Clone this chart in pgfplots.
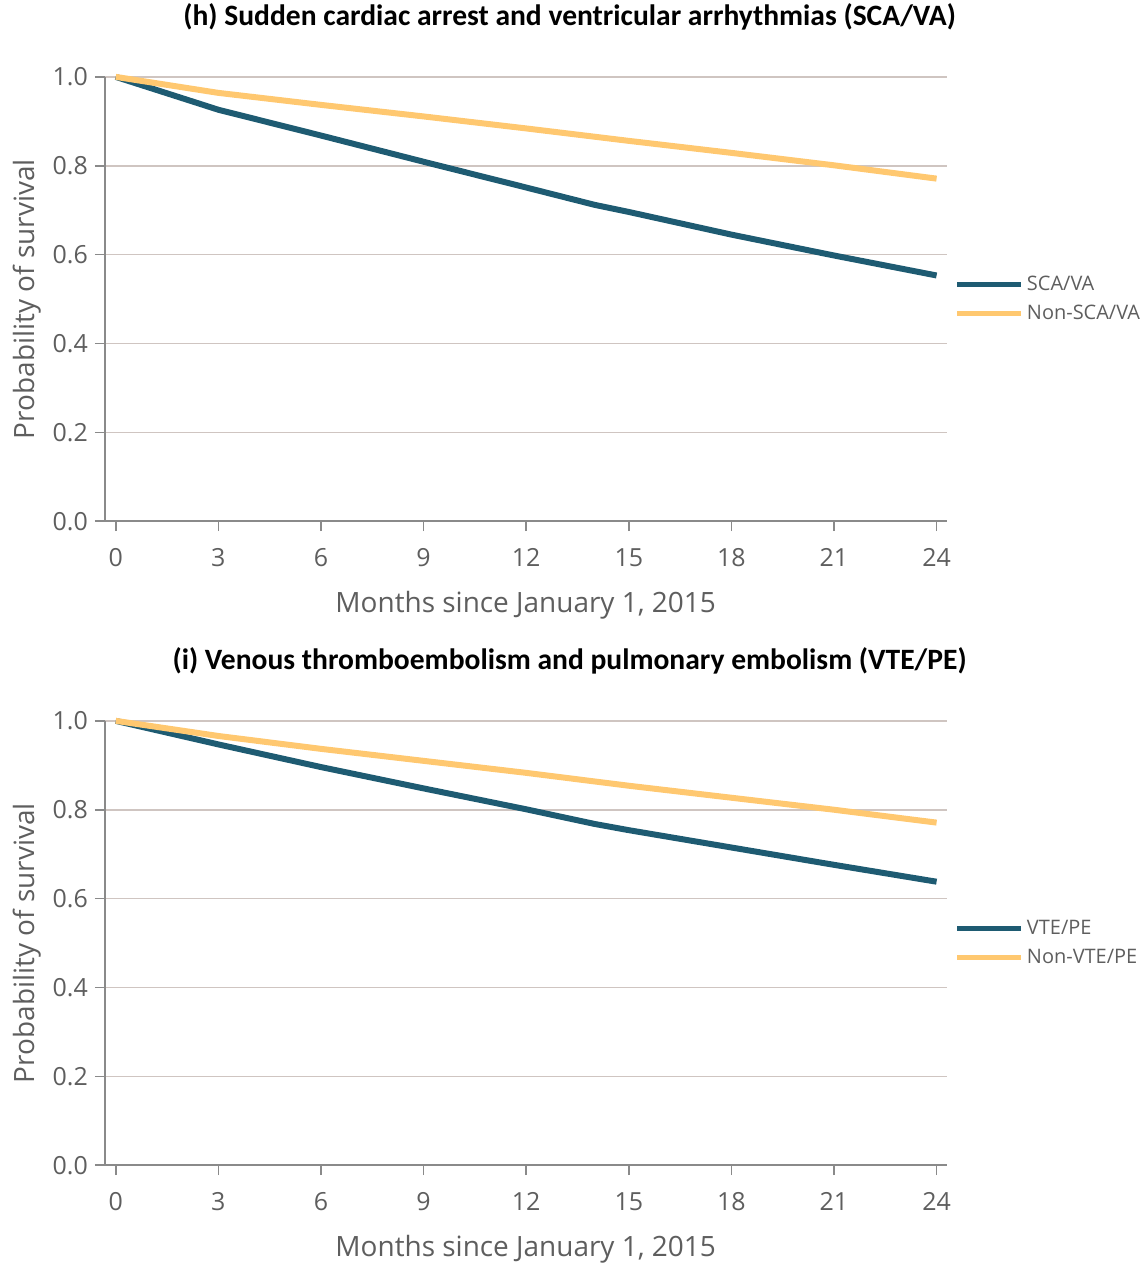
\documentclass[border=0pt]{standalone}
\usepackage{pgfplots}
\pgfplotsset{compat=1.18}
\usepackage{fontspec}
\setmainfont{Open Sans}
\newfontfamily\titlefont{Carlito}

\definecolor{teal}{HTML}{1E5B72}
\definecolor{gold}{HTML}{FFC870}
\definecolor{gridc}{HTML}{CFC5C1}
\definecolor{axisc}{HTML}{8A8A8A}
\definecolor{textc}{HTML}{5E5E5E}

\pgfplotsset{
  survival/.style={
    scale only axis,
    width=421.5pt, height=222.5pt,
    xmin=-0.32, xmax=24.29,
    ymin=0, ymax=1,
    axis lines*=left,
    axis line style={axisc, line width=0.8pt},
    xtick={0,3,...,24},
    ytick={0,0.2,...,1.0},
    ymajorgrids,
    major grid style={gridc, line width=0.8pt},
    tick style={axisc, line width=0.8pt},
    tick align=outside,
    major tick length=5pt,
    tick label style={textc, font=\fontsize{12.5}{14}\selectfont},
    xticklabel style={yshift=-5pt},
    /pgf/number format/assume math mode=true,
    yticklabel style={/pgf/number format/.cd, fixed, fixed zerofill, precision=1},
    xlabel={Months since January 1, 2015},
    ylabel={Probability of survival},
    label style={textc, font=\fontsize{14}{16}\selectfont},
    xlabel style={yshift=-5.5pt},
    ylabel style={yshift=-1pt},
    legend style={draw=none, fill=none, at={(rel axis cs:1,0.5)}, anchor=west,
      xshift=4pt, font=\fontsize{10}{12}\selectfont, text=textc,
      row sep=2pt, inner sep=0pt,
      /tikz/every even column/.append style={column sep=0pt},
      nodes={inner xsep=1.5pt}},
    legend cell align=left,
    legend image code/.code={\draw[#1, line width=2.6pt] (0pt,0pt) -- (32pt,0pt);},
    title style={font=\titlefont\bfseries\fontsize{14.8}{17}\selectfont, black,
      at={(rel axis cs:0.5,1)}, xshift=22pt, yshift=14pt, anchor=south},
    clip=false,
  },
  sline/.style={line width=3pt, line join=round},
}

\begin{document}
\begin{tikzpicture}
\path[use as bounding box] (-52.5pt,-372pt) rectangle (520.5pt,261pt);

\begin{axis}[survival,
  title={(h) Sudden cardiac arrest and ventricular arrhythmias (SCA/VA)}]
\addplot[sline, teal] coordinates {
  (0,1.000) (3,0.926) (6,0.868) (9,0.809) (12,0.751) (14,0.712) (15,0.696)
  (18,0.645) (21,0.598) (24,0.553)};
\addlegendentry{SCA/VA}
\addplot[sline, gold] coordinates {
  (0,1.000) (3,0.964) (6,0.937) (9,0.911) (12,0.884) (15,0.856)
  (18,0.829) (21,0.801) (24,0.771)};
\addlegendentry{Non-SCA/VA}
\end{axis}

\begin{axis}[survival, at={(0,-322.5pt)},
  title={(i) Venous thromboembolism and pulmonary embolism (VTE/PE)}]
\addplot[sline, teal] coordinates {
  (0,1.000) (3,0.947) (6,0.896) (9,0.848) (12,0.801) (14,0.768) (15,0.754)
  (18,0.715) (21,0.676) (24,0.638)};
\addlegendentry{VTE/PE}
\addplot[sline, gold] coordinates {
  (0,1.000) (3,0.966) (6,0.937) (9,0.910) (12,0.883) (15,0.854)
  (18,0.827) (21,0.800) (24,0.771)};
\addlegendentry{Non-VTE/PE}
\end{axis}
\end{tikzpicture}
\end{document}
